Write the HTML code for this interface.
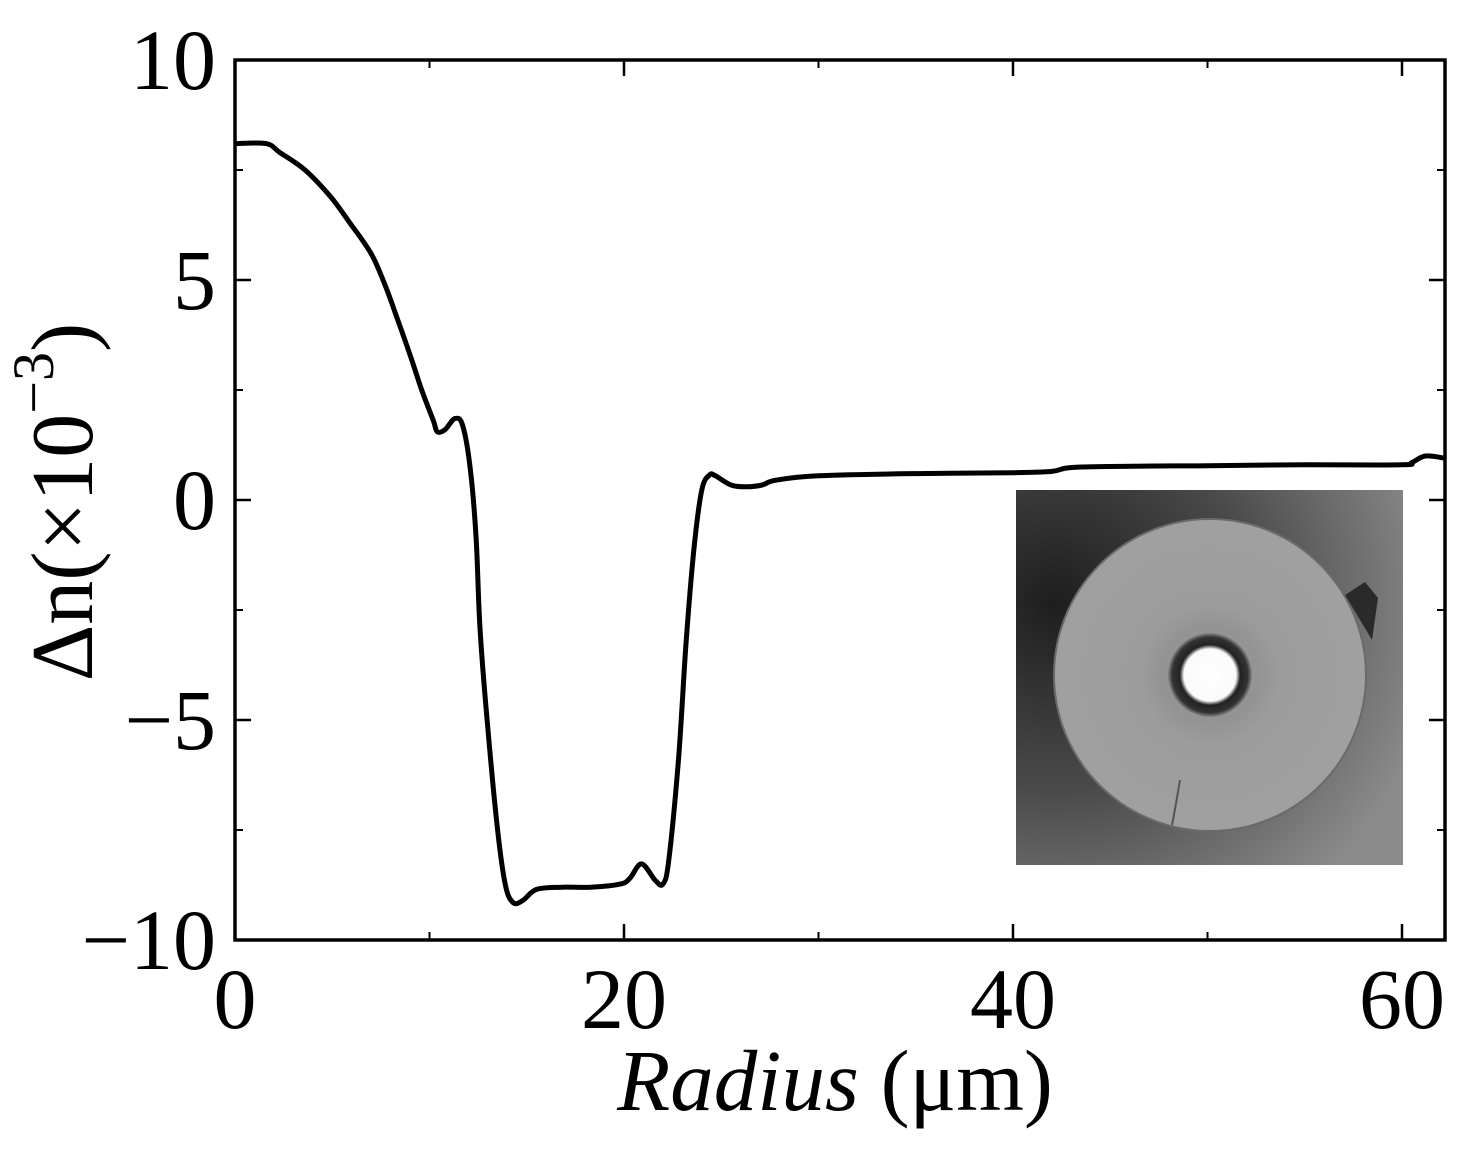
<!DOCTYPE html>
<html><head><meta charset="utf-8"><style>
body{margin:0;background:#fff;}
svg text{font-family:"Liberation Serif",serif;fill:#000;}
</style></head><body>
<svg width="1472" height="1151" viewBox="0 0 1472 1151">
<defs>
<radialGradient id="bgGrad" cx="0.1" cy="0.3" r="1">
<stop offset="0" stop-color="#1e1e1e"/><stop offset="0.5" stop-color="#4a4a4a"/><stop offset="1" stop-color="#8a8a8a"/>
</radialGradient>
<radialGradient id="cladGrad" cx="0.5" cy="0.5" r="0.5">
<stop offset="0" stop-color="#a8a8a8"/><stop offset="0.3" stop-color="#939393"/><stop offset="0.45" stop-color="#9c9c9c"/><stop offset="1" stop-color="#a0a0a0"/>
</radialGradient>
<radialGradient id="coreGrad" cx="0.5" cy="0.5" r="0.5">
<stop offset="0" stop-color="#fff"/><stop offset="0.62" stop-color="#fafafa"/><stop offset="0.72" stop-color="#222"/><stop offset="0.9" stop-color="#333"/><stop offset="1" stop-color="#888"/>
</radialGradient>
</defs>
<g id="inset">
<rect x="1016" y="490" width="387" height="375" fill="url(#bgGrad)"/>
<circle cx="1210" cy="675" r="156" fill="url(#cladGrad)" stroke="#6a6a6a" stroke-width="2"/>
<path d="M1345 595 L1365 582 L1378 598 L1372 640 L1360 620Z" fill="#2a2a2a"/>
<circle cx="1210" cy="675" r="42" fill="url(#coreGrad)"/>
<path d="M1180 780 Q1175 810 1172 825" stroke="#555" stroke-width="2" fill="none"/>
</g>
<g id="axes"></g>
<path id="curve" fill="none" stroke="#000" stroke-width="5" stroke-linejoin="round"/>
<text x="72" y="502" font-size="88" text-anchor="middle" transform="rotate(-90 72 502)" dominant-baseline="middle">Δn(×10<tspan font-size="58" dy="-32">−3</tspan><tspan dy="32">)</tspan></text>
<text x="835" y="1110" font-size="87" text-anchor="middle"><tspan font-style="italic">Radius</tspan> (μm)</text>
</svg>
<script>
const xTicks=[0,20,40,60];
const xMinor=[10,30,50];
const yTicks=[-10,-5,0,5,10];
const yMinor=[-7.5,-2.5,2.5,7.5];
const xTickLabels=["0","20","40","60"];
const yTickLabels=["−10","−5","0","5","10"];
const radius=[0,1.6,2.3,3.6,4.9,5.9,7.0,7.7,8.2,9.0,9.6,10.2,10.4,10.8,11.3,11.7,12.1,12.4,12.6,13.0,13.5,13.9,14.3,14.8,15.5,16.8,18.3,19.8,20.3,20.9,21.6,22.0,22.3,22.8,23.2,23.6,24.0,24.4,24.7,25.5,26.3,27.1,27.8,30,35,40,42,43.5,50,55,60,60.5,61.2,62.2];
const deltaN=[8.1,8.1,7.9,7.5,6.9,6.3,5.6,4.9,4.3,3.3,2.5,1.8,1.55,1.6,1.85,1.7,0.7,-0.9,-2.95,-5.2,-7.5,-8.75,-9.15,-9.1,-8.85,-8.8,-8.8,-8.73,-8.6,-8.27,-8.64,-8.73,-8.2,-5.9,-3.2,-1.1,0.23,0.57,0.55,0.34,0.3,0.34,0.45,0.55,0.6,0.62,0.65,0.75,0.78,0.8,0.8,0.85,1.0,0.95];
const X0=235,X1=1445,Y0=60,Y1=940;
const xs=v=>X0+v*19.45;
const ys=v=>500-v*44;
const NS="http://www.w3.org/2000/svg";
const ax=document.getElementById('axes');
function mk(tag,attrs){const e=document.createElementNS(NS,tag);for(const k in attrs)e.setAttribute(k,attrs[k]);ax.appendChild(e);return e;}
const frame=mk('rect',{x:X0,y:Y0,width:X1-X0,height:Y1-Y0,fill:'none',stroke:'#000','stroke-width':3.5});


xTicks.forEach((v,i)=>{
 const x=xs(v);
 const t1=mk('line',{x1:x,y1:Y1,x2:x,y2:Y1-16,stroke:'#000','stroke-width':2.5});
 
 
 const t2=mk('line',{x1:x,y1:Y0,x2:x,y2:Y0+16,stroke:'#000','stroke-width':2.5});
 
 
 const l=mk('text',{x:x,y:1028,'font-size':86,'text-anchor':'middle'});
 l.textContent=xTickLabels[i];
 
 
});
xMinor.forEach(v=>{
 const x=xs(v);
 const t1=mk('line',{x1:x,y1:Y1,x2:x,y2:Y1-8,stroke:'#000','stroke-width':2});
 
 
 const t2=mk('line',{x1:x,y1:Y0,x2:x,y2:Y0+8,stroke:'#000','stroke-width':2});
 
 
});
yTicks.forEach((v,i)=>{
 const y=ys(v);
 const t1=mk('line',{x1:X0,y1:y,x2:X0+16,y2:y,stroke:'#000','stroke-width':2.5});
 
 
 const t2=mk('line',{x1:X1,y1:y,x2:X1-16,y2:y,stroke:'#000','stroke-width':2.5});
 
 
 const l=mk('text',{x:216,y:y+29,'font-size':86,'text-anchor':'end'});
 l.textContent=yTickLabels[i];
 
 
});
yMinor.forEach(v=>{
 const y=ys(v);
 const t1=mk('line',{x1:X0,y1:y,x2:X0+8,y2:y,stroke:'#000','stroke-width':2});
 
 
 const t2=mk('line',{x1:X1,y1:y,x2:X1-8,y2:y,stroke:'#000','stroke-width':2});
 
 
});
const P=radius.map((r,i)=>[xs(r),ys(deltaN[i])]);
let d='M'+P[0][0].toFixed(1)+' '+P[0][1].toFixed(1);
for(let i=0;i<P.length-1;i++){
 const p0=P[Math.max(0,i-1)],p1=P[i],p2=P[i+1],p3=P[Math.min(P.length-1,i+2)];
 const t=1/6;
 const c1=[p1[0]+(p2[0]-p0[0])*t,p1[1]+(p2[1]-p0[1])*t];
 const c2=[p2[0]-(p3[0]-p1[0])*t,p2[1]-(p3[1]-p1[1])*t];
 d+=' C'+c1.map(v=>v.toFixed(1)).join(' ')+' '+c2.map(v=>v.toFixed(1)).join(' ')+' '+p2.map(v=>v.toFixed(1)).join(' ');
}
document.getElementById('curve').setAttribute('d',d);
</script>
</body></html>
